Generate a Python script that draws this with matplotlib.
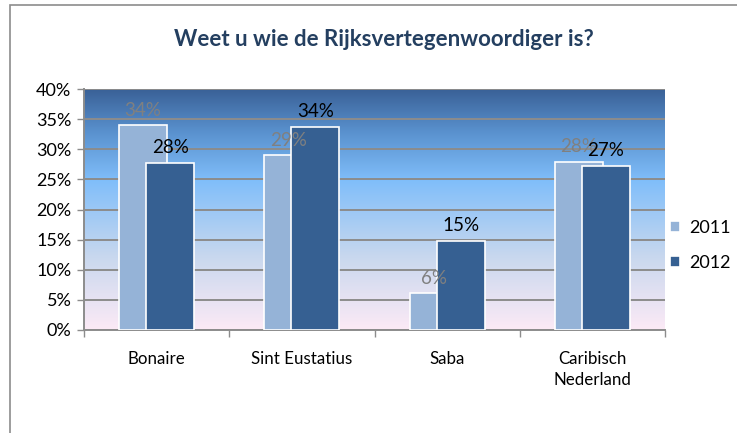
import numpy as np
import matplotlib
matplotlib.use('Agg')
import matplotlib.pyplot as plt
from matplotlib.colors import LinearSegmentedColormap
from matplotlib.patches import Rectangle

plt.rcParams['font.family'] = ['Lato', 'DejaVu Sans']

# data
categories = ['Bonaire', 'Sint Eustatius', 'Saba', 'Caribisch\nNederland']
years = ['2011', '2012']
v2011 = [0.34, 0.29, 0.061, 0.279]
v2012 = [0.277, 0.337, 0.148, 0.272]
labels2011 = ['34%', '29%', '6%', '28%']
labels2012 = ['28%', '34%', '15%', '27%']
yticks = [0, 0.05, 0.10, 0.15, 0.20, 0.25, 0.30, 0.35, 0.40]

c2011 = '#95B3D7'
c2012 = '#366092'

fig = plt.figure(figsize=(7.37, 4.33), dpi=100)
ax = fig.add_axes([84/737, 103/433, 581/737, 241/433])

# outer chart border
fig.patches.append(Rectangle((10/737, -0.1), 1.0, (433-5)/433 + 0.1,
                             transform=fig.transFigure, fill=False,
                             edgecolor='#8C8C8C', linewidth=1.2))

# gradient background of the plot area
grad = LinearSegmentedColormap.from_list('bg', [
    (0.0, '#FCEAF6'), (0.30, '#C9D8EE'), (0.62, '#80BEFA'),
    (0.82, '#5A92CF'), (1.0, '#3A6197')])
ax.imshow(np.linspace(0, 1, 256).reshape(-1, 1), cmap=grad, aspect='auto',
          extent=[-0.5, 3.5, 0, 0.4], origin='lower', zorder=0)

x = np.arange(len(categories))
w = 0.33
off = 0.093
ax.bar(x - off, v2011, w, color=c2011, edgecolor='white', linewidth=1.2,
       zorder=3, label=years[0])
ax.bar(x + off, v2012, w, color=c2012, edgecolor='white', linewidth=1.2,
       zorder=4, label=years[1])

for i in range(len(categories)):
    ax.text(x[i] - off, v2011[i] + 0.011, labels2011[i], ha='center',
            va='bottom', fontsize=13.5, color='#808080', zorder=5)
    ax.text(x[i] + off, v2012[i] + 0.011, labels2012[i], ha='center',
            va='bottom', fontsize=13.5, color='black', zorder=5)

ax.set_xlim(-0.5, 3.5)
ax.set_ylim(0, 0.4)
ax.set_yticks(yticks)
ax.set_yticklabels(['%d%%' % round(t * 100) for t in yticks], fontsize=13)
ax.yaxis.grid(True, color='#8C8C8C', linewidth=1.4, zorder=1)
ax.set_axisbelow(False)
for gl in ax.get_ygridlines():
    gl.set_zorder(1)

ax.set_xticks(x)
ax.set_xticklabels(categories, fontsize=12.2, linespacing=1.4)
ax.tick_params(axis='x', which='major', length=0, pad=15)
ax.set_xticks(np.arange(-0.5, 4.0, 1.0), minor=True)
ax.tick_params(axis='x', which='minor', length=5, color='#8C8C8C', width=1)
ax.tick_params(axis='y', length=5, color='#8C8C8C', width=1, pad=4)

for s in ['top', 'right']:
    ax.spines[s].set_visible(False)
for s in ['left', 'bottom']:
    ax.spines[s].set_color('#8C8C8C')
    ax.spines[s].set_linewidth(1.4)

fig.text(0.521, 0.908, 'Weet u wie de Rijksvertegenwoordiger is?',
         ha='center', va='center', fontsize=16, fontweight='bold',
         color='#243F60')

leg = ax.legend(loc='center left', bbox_to_anchor=(1.008, 0.35), frameon=False,
                fontsize=13, handlelength=0.55, handleheight=0.55,
                handletextpad=0.55, labelspacing=1.05, borderaxespad=0,
                borderpad=0)

fig.savefig('out.png', dpi=100)
